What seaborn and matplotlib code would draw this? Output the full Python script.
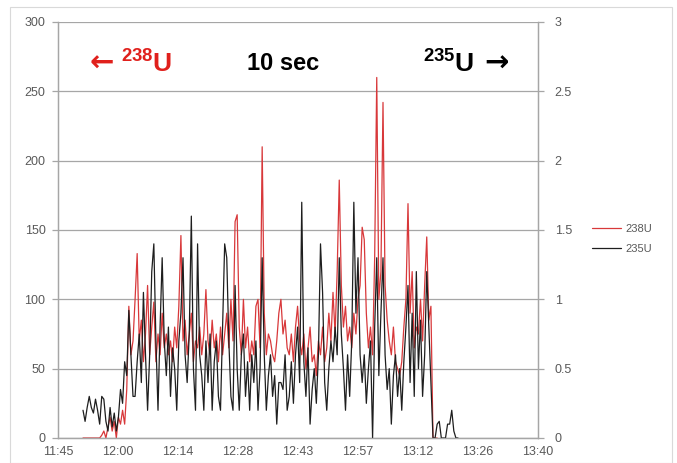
import numpy as np
import pandas as pd
import matplotlib
matplotlib.use("Agg")
import matplotlib.pyplot as plt
from matplotlib.patches import Rectangle
import seaborn as sns

# ---------------- data ----------------
# time axis: minutes after 11:45, one reading every 0.5 min starting at 11:51
start_min = 6.0
step_min = 0.5

u235 = [  # right axis
    0.20, 0.12, 0.22, 0.30, 0.22, 0.18, 0.28, 0.20, 0.10, 0.30,
    0.28, 0.12, 0.05, 0.22, 0.08, 0.18, 0.05, 0.15, 0.35, 0.25,
    0.55, 0.45, 0.92, 0.60, 0.30, 0.30, 0.55, 0.75, 0.40, 1.05,
    0.60, 0.20, 0.60, 1.20, 1.40, 0.70, 0.20, 0.80, 1.30, 0.70,
    0.45, 0.80, 0.30, 0.65, 0.50, 0.20, 0.70, 0.90, 1.30, 0.60,
    0.40, 0.75, 1.60, 0.50, 0.20, 1.40, 0.60, 0.45, 0.20, 0.70,
    0.40, 0.75, 0.20, 0.55, 0.70, 0.30, 0.20, 0.80, 1.40, 1.30,
    0.70, 0.30, 0.20, 1.10, 0.50, 0.20, 0.60, 0.75, 0.30, 0.55,
    0.20, 0.60, 0.40, 0.70, 0.20, 0.50, 1.30, 0.60, 0.20, 0.45,
    0.60, 0.30, 0.45, 0.10, 0.40, 0.40, 0.35, 0.60, 0.20, 0.30,
    0.55, 0.25, 0.60, 0.80, 0.40, 1.70, 0.55, 0.30, 0.65, 0.10,
    0.35, 0.50, 0.25, 0.60, 1.40, 1.05, 0.40, 0.20, 0.50, 0.70,
    0.55, 0.80, 0.60, 1.30, 0.75, 0.50, 0.20, 0.60, 0.30, 0.70,
    1.70, 0.90, 1.30, 0.60, 0.40, 0.60, 0.25, 0.50, 0.70, 0.00,
    0.80, 1.30, 0.45, 0.90, 1.30, 0.60, 0.35, 0.50, 0.10, 0.45,
    0.60, 0.30, 0.50, 0.20, 0.55, 0.80, 1.10, 0.40, 0.90, 0.30,
    1.20, 0.50, 0.85, 0.30, 0.60, 1.20, 0.80, 0.40, 0.00, 0.00,
    0.10, 0.12, 0.00, 0.00, 0.00, 0.10, 0.10, 0.20, 0.05, 0.00,
    0.00,
]

u238 = [  # left axis
    0, 0, 0, 0, 0, 0, 0, 0, 0, 2,
    5, 0, 8, 15, 5, 12, 0, 15, 10, 20,
    10, 35, 95, 60, 70, 100, 133, 70, 85, 55,
    75, 110, 60, 80, 98, 55, 75, 60, 90, 65,
    75, 60, 70, 55, 80, 65, 95, 146, 70, 85,
    60, 75, 90, 55, 70, 65, 80, 60, 75, 107,
    70, 60, 85, 65, 75, 55, 80, 60, 75, 90,
    65, 100, 70, 156, 161, 80, 60, 100, 65, 80,
    55, 70, 60, 95, 100, 65, 210, 90, 60, 75,
    70, 60, 55, 70, 90, 100, 75, 85, 65, 60,
    75, 55, 80, 95, 70, 60, 75, 50, 65, 80,
    55, 60, 45, 70, 60, 80, 55, 65, 90, 70,
    105, 75, 120, 186, 110, 80, 95, 70, 80, 65,
    90, 75, 100, 110, 152, 143, 90, 65, 80, 60,
    130, 260, 100, 120, 242, 110, 85, 70, 60, 80,
    55, 50, 45, 55, 80, 100, 169, 90, 120, 65,
    80, 75, 100, 70, 110, 145, 85, 95, 0, 0,
    0,
]

x_tick_labels = ["11:45", "12:00", "12:14", "12:28", "12:43",
                 "12:57", "13:12", "13:26", "13:40"]
x_tick_step = 14.4          # Excel major unit 0.01 day
left_ticks = [0, 50, 100, 150, 200, 250, 300]
right_ticks = [0, 0.5, 1, 1.5, 2, 2.5, 3]
right_tick_labels = ["0", "0.5", "1", "1.5", "2", "2.5", "3"]

# ---------------- build frames ----------------
t235 = start_min + step_min * np.arange(len(u235))
t238 = start_min + step_min * np.arange(len(u238))
df235 = pd.DataFrame({"t": t235, "v": u235})
df238 = pd.DataFrame({"t": t238, "v": u238})

sns.set_theme(style="white")
plt.rcParams["font.family"] = ["Liberation Sans", "DejaVu Sans"]
plt.rcParams["mathtext.fontset"] = "custom"
plt.rcParams["mathtext.rm"] = "Liberation Sans"
plt.rcParams["mathtext.bf"] = "Liberation Sans:bold"

fig = plt.figure(figsize=(6.77, 4.63), dpi=100)
ax = fig.add_axes([58 / 677, 25 / 463, 480 / 677, 416 / 463])
ax2 = ax.twinx()

RED = "#d8383a"
BLACK = "#1e1e1e"
GRID = "#a6a6a6"
TXT = "#595959"

sns.lineplot(data=df238, x="t", y="v", ax=ax, color=RED, linewidth=0.9,
             label="238U", legend=False)
sns.lineplot(data=df235, x="t", y="v", ax=ax2, color=BLACK, linewidth=0.9,
             label="235U", legend=False)

x_ticks = [i * x_tick_step for i in range(len(x_tick_labels))]
ax.set_xlim(x_ticks[0], x_ticks[-1])
ax.set_xticks(x_ticks)
ax.set_xticklabels(x_tick_labels)
ax.set_ylim(0, 300)
ax.set_yticks(left_ticks)
ax2.set_ylim(0, 3)
ax2.set_yticks(right_ticks)
ax2.set_yticklabels(right_tick_labels)

for a in (ax, ax2):
    a.set_xlabel("")
    a.set_ylabel("")
    for s in a.spines.values():
        s.set_color(GRID)
        s.set_linewidth(0.9)
    a.spines["top"].set_visible(False)

ax.yaxis.grid(True, color=GRID, linewidth=0.9)
ax.xaxis.grid(False)
ax2.grid(False)
ax.tick_params(axis="both", colors=GRID, labelcolor=TXT, labelsize=9,
               length=4, width=0.9, direction="out")
ax.tick_params(axis="x", pad=2)
ax.tick_params(axis="y", pad=5, left=True)
ax2.tick_params(axis="y", colors=GRID, labelcolor=TXT, labelsize=9,
                length=4, width=0.9, direction="out", pad=8, right=True)

# annotations
RED_TXT = "#e0201c"
ax.text((102 - 58) / 480, 0.90, "\u2190", transform=ax.transAxes,
        color=RED_TXT, fontsize=21, fontweight="bold", family="DejaVu Sans",
        ha="center", va="center")
ax.text((147 - 58) / 480, 0.90, r"$\mathbf{^{238}U}$", transform=ax.transAxes,
        color=RED_TXT, fontsize=19, ha="center", va="center")
ax.text(0.47, 0.90, "10 sec", transform=ax.transAxes, color="black",
        fontsize=17, fontweight="bold", ha="center", va="center")
ax.text((449 - 58) / 480, 0.90, r"$\mathbf{^{235}U}$", transform=ax.transAxes,
        color="black", fontsize=19, ha="center", va="center")
ax.text((496 - 58) / 480, 0.90, "\u2192", transform=ax.transAxes,
        color="black", fontsize=21, fontweight="bold", family="DejaVu Sans",
        ha="center", va="center")

# legend
h1, l1 = ax.get_legend_handles_labels()
h2, l2 = ax2.get_legend_handles_labels()
fig.legend(h1 + h2, l1 + l2, loc="center left",
           bbox_to_anchor=(582 / 677, 1 - 239 / 463), frameon=False,
           fontsize=8, labelcolor=TXT, handlelength=2.6, handletextpad=0.4,
           labelspacing=0.9)

# chart area border
fig.patches.append(Rectangle((10 / 677, 0.0), 662 / 677, 1 - 7 / 463,
                             transform=fig.transFigure, fill=False,
                             edgecolor="#d9d9d9", linewidth=0.8))

fig.savefig("out.png", dpi=100)
